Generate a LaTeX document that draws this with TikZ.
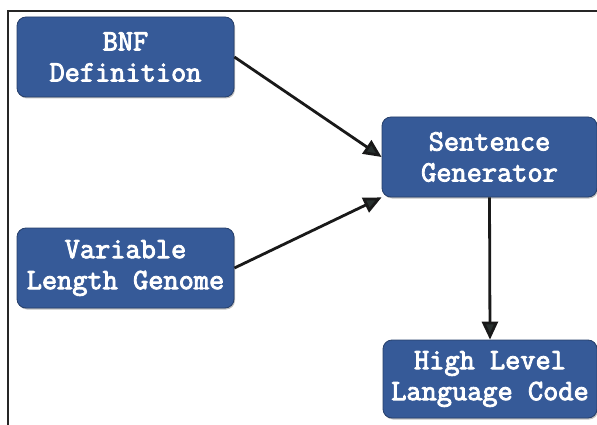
\documentclass[tikz,border=0pt]{standalone}
\usepackage{fontspec}
\newfontfamily\boxfont{Latin Modern Mono}[FakeBold=3]
\usetikzlibrary{arrows.meta,shadows}
\definecolor{boxblue}{RGB}{54,90,152}
\definecolor{tipgrey}{RGB}{40,48,46}
\begin{document}
\begin{tikzpicture}[x=1pt,y=-1pt,
  box/.style={draw=boxblue!70!black, line width=0.8pt, fill=boxblue, rounded corners=9pt,
    minimum width=217pt, minimum height=80pt, inner sep=0pt, align=center,
    text=white, font=\fontsize{29.5}{31}\selectfont\boxfont,
    drop shadow={shadow xshift=1pt, shadow yshift=-1.5pt, opacity=0.5}},
  conn/.style={line width=2.8pt, draw=black!90,
    -{Triangle[length=18pt,width=16pt,fill=tipgrey]}},
  frame/.style={line width=1.6pt, draw=black!85}]
\useasboundingbox (0,0) rectangle (597,425);
\draw[frame] (8,425) -- (8,11) -- (597,11);
\node[box] (bnf) at (125.5,57) {BNF\\Definition};
\node[box] (vlg) at (125.5,268) {Variable\\Length Genome};
\node[box, minimum width=215pt] (sg) at (489.5,157) {Sentence\\Generator};
\node[box, minimum width=214pt, minimum height=78pt] (hl) at (490,379) {High Level\\Language Code};
\draw[conn] (bnf.east) -- (sg.west);
\draw[conn] (vlg.east) -- (sg.south west);
\draw[conn] (sg.south) -- (hl.north);
\end{tikzpicture}
\end{document}
